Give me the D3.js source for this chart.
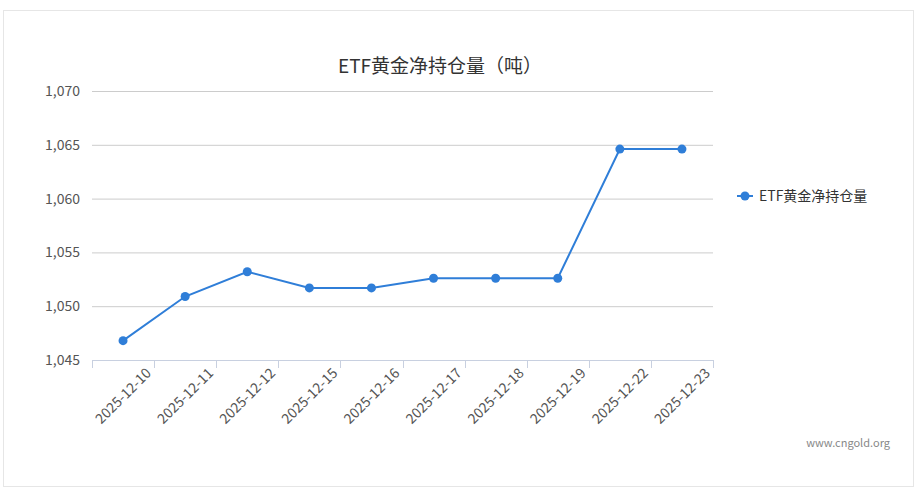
<!DOCTYPE html>
<html><head><meta charset="utf-8">
<script src="https://cdn.jsdelivr.net/npm/d3@7"></script>
<style>body{margin:0;background:#fff}</style>
</head><body>
<svg width="921" height="492"></svg>
<script>
let dates = ['2025-12-10','2025-12-11','2025-12-12','2025-12-15','2025-12-16','2025-12-17','2025-12-18','2025-12-19','2025-12-22','2025-12-23']
let holdings = [1046.8, 1050.9, 1053.2, 1051.7, 1051.7, 1052.6, 1052.6, 1052.6, 1064.6, 1064.6]
let yTicks = [1045, 1050, 1055, 1060, 1065, 1070]
let seriesName = 'ETF黄金净持仓量'
let titleText = 'ETF黄金净持仓量（吨）'

let margin = { top: 91, bottom: 132, left: 92, right: 208 }
let width = 921, height = 492
let color = '#2f7ed8'
let font = '"Noto Sans CJK SC", "Noto Sans", sans-serif'
let svg = d3.select('svg')

svg.append('rect').attr('x', 3.5).attr('y', 10.5).attr('width', 910).attr('height', 476)
  .attr('fill', '#fff').attr('stroke', '#e6e6e6')

let xScale = d3.scaleBand().domain(dates).range([margin.left, width - margin.right])
let yScale = d3.scaleLinear().domain([1045, 1070]).range([height - margin.bottom, margin.top])

svg.append('g').selectAll('line').data(yTicks).enter().append('line')
  .attr('x1', margin.left).attr('x2', width - margin.right)
  .attr('y1', d => yScale(d) + 0.5).attr('y2', d => yScale(d) + 0.5)
  .attr('stroke', d => d === 1045 ? '#c8d0e0' : '#ccc')

svg.append('g').selectAll('text').data(yTicks).enter().append('text')
  .attr('x', margin.left - 12).attr('y', d => yScale(d) + 5)
  .attr('text-anchor', 'end').attr('font-family', font).attr('font-size', 14).attr('fill', '#555')
  .text(d => d3.format(',')(d))

// x ticks
let tickXs = [margin.left].concat(dates.map(d => xScale(d) + xScale.bandwidth()))
svg.append('g').selectAll('line').data(tickXs).enter().append('line')
  .attr('x1', d => Math.round(d) + 0.5).attr('x2', d => Math.round(d) + 0.5)
  .attr('y1', yScale(1045)).attr('y2', yScale(1045) + 8).attr('stroke', '#c8d0e0')

svg.append('g').selectAll('text').data(dates).enter().append('text')
  .attr('transform', d => `translate(${xScale(d) + xScale.bandwidth() - 2},${yScale(1045) + 14}) rotate(-45)`)
  .attr('text-anchor', 'end').attr('font-family', font).attr('font-size', 14).attr('fill', '#555')
  .text(d => d)

let line = d3.line().x((d, i) => xScale(dates[i]) + xScale.bandwidth() / 2).y(d => yScale(d))
svg.append('path').attr('d', line(holdings)).attr('fill', 'none').attr('stroke', color).attr('stroke-width', 2)
svg.append('g').selectAll('circle').data(holdings).enter().append('circle')
  .attr('cx', (d, i) => xScale(dates[i]) + xScale.bandwidth() / 2).attr('cy', d => yScale(d))
  .attr('r', 4.5).attr('fill', color)

svg.append('text').attr('x', 440).attr('y', 73).attr('text-anchor', 'middle')
  .attr('font-family', font).attr('font-size', 19).attr('fill', '#333').text(titleText)

let lg = svg.append('g').attr('transform', 'translate(737,196)')
lg.append('line').attr('x1', 0).attr('x2', 16).attr('y1', 0).attr('y2', 0).attr('stroke', color).attr('stroke-width', 2)
lg.append('circle').attr('cx', 8).attr('cy', 0).attr('r', 4.5).attr('fill', color)
lg.append('text').attr('x', 22).attr('y', 5).attr('font-family', font).attr('font-size', 14).attr('fill', '#333').text(seriesName)

svg.append('text').attr('x', 890).attr('y', 447).attr('text-anchor', 'end')
  .attr('font-family', font).attr('font-size', 11).attr('fill', '#888').text('www.cngold.org')
</script>
</body></html>
